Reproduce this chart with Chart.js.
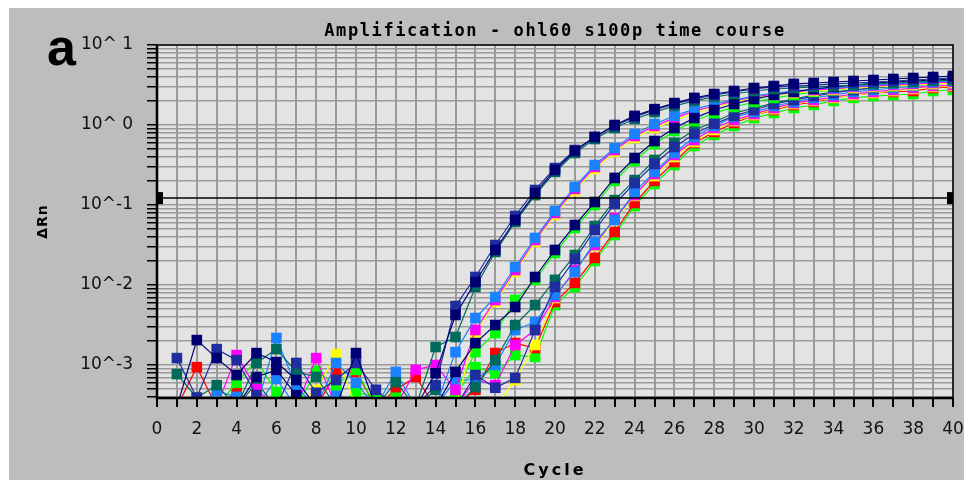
<!DOCTYPE html>
<html>
<head>
<meta charset="utf-8">
<title>Amplification - ohl60 s100p time course</title>
<script src="https://cdn.jsdelivr.net/npm/chart.js@4.4.1/dist/chart.umd.min.js"></script>
<style>
    html, body { margin: 0; padding: 0; background: #ffffff; }
    #wrap  { position: relative; width: 964px; height: 480px; overflow: hidden; }
    #panel { position: absolute; left: 9px; top: 8px; right: 0; bottom: 0; background: #bdbdbd; }
    #amplification_graph { position: absolute; left: 0; top: 0; }
</style>
</head>
<body>
<div id="wrap">
    <div id="panel"></div>
    <canvas id="amplification_graph" width="964" height="480"></canvas>
</div>
<script>
// cycle numbers and x tick positions
const cycles      = [1, 2, 3, 4, 5, 6, 7, 8, 9, 10, 11, 12, 13, 14, 15, 16, 17, 18, 19, 20,
                     21, 22, 23, 24, 25, 26, 27, 28, 29, 30, 31, 32, 33, 34, 35, 36, 37, 38, 39, 40];
const cycle_ticks = [0, 1, 2, 3, 4, 5, 6, 7, 8, 9, 10, 11, 12, 13, 14, 15, 16, 17, 18, 19, 20,
                     21, 22, 23, 24, 25, 26, 27, 28, 29, 30, 31, 32, 33, 34, 35, 36, 37, 38, 39, 40];

// log axis: decades that carry a label, and the visible range
const decades   = [0.0001, 0.001, 0.01, 0.1, 1];
const y_min     = 0.000387;
const y_max     = 10;
const threshold = 0.122;

// readings under the visible floor
const low = 0.0003;

// delta Rn per well, cycles 1..40
const navy1    = [low, 0.00205, 0.00122, 0.00075, 0.00141, 0.00109, 0.00065, low, low, 0.00141, low, low, low,
                  0.00079, 0.00422, 0.0109, 0.0274, 0.0649, 0.141, 0.274, 0.473, 0.708, 1.00, 1.30, 1.58, 1.88,
                  2.18, 2.44, 2.66, 2.90, 3.07, 3.26, 3.35, 3.45, 3.55, 3.65, 3.76, 3.87, 3.98, 4.10];
const blue1    = [0.00122, 0.00039, 0.00158, 0.00115, 0.00042, low, 0.00106, 0.00045, 0.00065, 0.00106, 0.00049, low, low,
                  0.00056, 0.00546, 0.0126, 0.0316, 0.0729, 0.154, 0.290, 0.487, 0.708, 0.972, 1.26, 1.54, 1.83,
                  2.11, 2.37, 2.59, 2.82, 2.99, 3.07, 3.16, 3.26, 3.35, 3.45, 3.55, 3.65, 3.76, 3.87];
const teal1    = [0.00077, 0.00039, 0.00056, low, 0.00106, 0.00158, 0.00082, 0.00071, low, low, low, 0.00061, low,
                  0.00168, 0.00224, 0.00944, 0.0259, 0.0613, 0.133, 0.259, 0.447, 0.668, 0.917, 1.19, 1.45, 1.73,
                  2.00, 2.24, 2.44, 2.66, 2.82, 2.90, 2.99, 3.07, 3.16, 3.26, 3.35, 3.45, 3.55, 3.65];
const sky1     = [low, low, 0.00047, 0.00040, low, 0.00218, 0.00053, low, 0.00106, 0.00060, low, 0.00082, low, low,
                  0.00145, 0.00387, 0.00708, 0.0168, 0.0387, 0.0841, 0.168, 0.316, 0.516, 0.772, 1.03, 1.30,
                  1.58, 1.83, 2.05, 2.30, 2.51, 2.66, 2.82, 2.90, 3.07, 3.16, 3.26, 3.35, 3.45, 3.55];
const magenta1 = [low, low, low, 0.00133, 0.00050, low, low, 0.00122, low, low, low, low, 0.00087,
                  0.00100, 0.00049, 0.00274, 0.00649, 0.0154, 0.0365, 0.0794, 0.159, 0.299, 0.487, 0.729, 0.972,
                  1.22, 1.50, 1.73, 2.00, 2.24, 2.44, 2.59, 2.74, 2.82, 2.99, 3.07, 3.16, 3.26, 3.35, 3.45];
const yellow1  = [low, low, low, low, low, low, low, 0.00049, 0.00137, low, low, low, low, low, low,
                  0.00251, 0.00613, 0.0145, 0.0345, 0.0750, 0.150, 0.282, 0.460, 0.688, 0.917, 1.15,
                  1.41, 1.68, 1.94, 2.18, 2.37, 2.51, 2.66, 2.74, 2.90, 2.99, 3.07, 3.16, 3.26, 3.35];
const navy2    = [low, low, low, low, 0.00071, 0.00087, 0.00042, low, low, low, low, low, low, low,
                  0.00082, 0.00188, 0.00316, 0.00531, 0.0126, 0.0274, 0.0562, 0.109, 0.218, 0.387, 0.631, 0.917,
                  1.22, 1.54, 1.83, 2.11, 2.37, 2.59, 2.82, 2.99, 3.16, 3.35, 3.45, 3.55, 3.65, 3.76];
const green1   = [low, low, low, 0.00060, 0.00115, 0.00046, low, 0.00084, 0.00056, 0.00087, low, 0.00039, low, low,
                  0.00046, 0.00145, 0.00251, 0.00649, 0.0116, 0.0251, 0.0516, 0.100, 0.200, 0.355, 0.579, 0.841,
                  1.12, 1.41, 1.68, 1.94, 2.18, 2.37, 2.59, 2.74, 2.90, 2.99, 3.07, 3.16, 3.26, 3.35];
const teal2    = [low, low, low, low, 0.00060, low, low, low, low, low, low, low, low, 0.00049, low,
                  0.00053, 0.00115, 0.00316, 0.00562, 0.0116, 0.0237, 0.0546, 0.115, 0.205, 0.365, 0.596,
                  0.866, 1.09, 1.41, 1.63, 1.88, 2.11, 2.37, 2.59, 2.74, 2.90, 3.07, 3.26, 3.35, 3.45];
const blue2    = [low, low, low, low, low, low, low, low, low, low, low, low, low, low, low,
                  0.00075, 0.00052, 0.00069, 0.00274, 0.00944, 0.0211, 0.0487, 0.103, 0.188, 0.326, 0.531,
                  0.772, 1.03, 1.30, 1.54, 1.83, 2.05, 2.30, 2.51, 2.74, 2.90, 3.07, 3.26, 3.45, 3.65];
const sky2     = [low, low, low, low, low, 0.00067, low, low, 0.00046, low, low, low, low, low,
                  0.00065, 0.00065, 0.00100, 0.00274, 0.00345, 0.00750, 0.0145, 0.0345, 0.0649, 0.145, 0.259, 0.447,
                  0.708, 0.972, 1.26, 1.45, 1.73, 1.94, 2.18, 2.37, 2.59, 2.74, 2.90, 3.07, 3.26, 3.35];
const green2   = [low, low, low, low, low, low, low, low, low, 0.00046, 0.00039, low, low, low,
                  0.00042, 0.00094, 0.00079, 0.00133, 0.00126, 0.00562, 0.00944, 0.0200, 0.0422, 0.0972, 0.183, 0.316,
                  0.546, 0.750, 0.972, 1.22, 1.41, 1.63, 1.78, 2.00, 2.18, 2.30, 2.37, 2.44, 2.66, 2.74];
const magenta2 = [low, low, low, low, low, low, low, low, low, low, low, low, low, low, low,
                  0.00065, 0.00056, 0.00178, 0.00274, 0.00708, 0.0154, 0.0316, 0.0688, 0.133, 0.244, 0.422,
                  0.649, 0.917, 1.15, 1.37, 1.63, 1.88, 2.05, 2.24, 2.44, 2.59, 2.74, 2.90, 3.07, 3.16];
const yellow2  = [low, low, low, low, low, low, low, low, low, low, low, low, low, low, low, low, low,
                  0.00065, 0.00178, 0.00688, 0.0150, 0.0307, 0.0649, 0.130, 0.230, 0.398, 0.613, 0.866,
                  1.12, 1.33, 1.58, 1.83, 2.00, 2.18, 2.37, 2.51, 2.66, 2.82, 2.99, 3.07];
const red2     = [low, 0.00094, low, 0.00047, low, low, low, low, 0.00079, 0.00082, low, 0.00049, 0.00071, low, low,
                  0.00049, 0.00141, 0.00188, 0.00163, 0.00613, 0.0106, 0.0218, 0.0460, 0.106, 0.200, 0.345,
                  0.596, 0.818, 1.06, 1.33, 1.54, 1.78, 1.94, 2.18, 2.37, 2.51, 2.59, 2.66, 2.90, 2.99];

const NAVY    = "#000073";
const BLUE    = "#1f2d9f";
const TEAL    = "#006b5b";
const SKY     = "#1a82ff";
const MAGENTA = "#ff00ff";
const YELLOW  = "#ffff00";
const GREEN   = "#00ff00";
const RED     = "#ff0000";

window.addEventListener("load", function (){
    draw_amplification_graph();
});

function make_series(values, color){
    let points = [];
    for (let i = 0; i < values.length; i++){
        points.push({ x: cycles[i], y: values[i] });
    }
    return {
        data: points,
        borderColor: color,
        backgroundColor: color,
        borderWidth: 1.2,
        pointStyle: "rect",
        pointRadius: 7.5,
        pointHoverRadius: 7.5,
        pointBorderWidth: 0,
        pointBackgroundColor: color,
        tension: 0,
        clip: 0
    };
}

// plot background, frame and the free text around the plot
const frame_plugin = {
    id: "frame",
    beforeDraw: function(chart){
        const ctx = chart.ctx;
        const a   = chart.chartArea;
        ctx.save();
        ctx.fillStyle = "#e3e3e3";
        ctx.fillRect(a.left, a.top, a.right - a.left, a.bottom - a.top);
        ctx.restore();
    },
    afterDraw: function(chart){
        const ctx = chart.ctx;
        const a   = chart.chartArea;
        const mid = (a.left + a.right) / 2;
        ctx.save();

        ctx.strokeStyle = "#000000";
        ctx.lineWidth   = 1.5;
        ctx.strokeRect(a.left, a.top, a.right - a.left, a.bottom - a.top);
        ctx.lineWidth   = 2.5;
        ctx.beginPath();
        ctx.moveTo(a.left, a.top);
        ctx.lineTo(a.left, a.bottom);
        ctx.lineTo(a.right, a.bottom);
        ctx.stroke();

        ctx.fillStyle    = "#000000";
        ctx.textBaseline = "alphabetic";

        ctx.textAlign     = "left";
        ctx.font          = "bold 52px 'Liberation Sans'";
        ctx.fillText("a", 47, 65);

        ctx.textAlign     = "center";
        ctx.letterSpacing = "1.6px";
        ctx.font          = "bold 17px 'DejaVu Sans Mono'";
        ctx.fillText("Amplification - ohl60 s100p time course", mid, 36);

        ctx.letterSpacing = "3px";
        ctx.font          = "bold 16px 'DejaVu Sans'";
        ctx.fillText("Cycle", mid, 475);

        ctx.letterSpacing = "1px";
        ctx.font          = "bold 14px 'DejaVu Sans'";
        ctx.textBaseline  = "middle";
        ctx.translate(43, (a.top + a.bottom) / 2);
        ctx.rotate(-Math.PI / 2);
        ctx.fillText("\u0394Rn", 0, 0);

        ctx.restore();
    }
};

function draw_amplification_graph(){

    // grid lines at 1..9 of every decade
    let grid_values = [];
    for (let d of decades){
        for (let k = 1; k <= 9; k++){
            let v = d * k;
            if (v >= y_min){
                grid_values.push(v);
            }
        }
    }
    grid_values.push(y_max);

    let datasets = [];
    datasets.push({
        data: [{ x: 0, y: threshold }, { x: 40, y: threshold }],
        borderColor: "#000000",
        backgroundColor: "#000000",
        borderWidth: 1.5,
        pointStyle: "rect",
        pointRadius: 8.5,
        pointHoverRadius: 8.5,
        pointBorderWidth: 0,
        pointBackgroundColor: "#000000",
        clip: 0
    });
    datasets.push(make_series(navy1, NAVY));
    datasets.push(make_series(blue1, BLUE));
    datasets.push(make_series(teal1, TEAL));
    datasets.push(make_series(navy2, NAVY));
    datasets.push(make_series(sky1, SKY));
    datasets.push(make_series(magenta1, MAGENTA));
    datasets.push(make_series(yellow1, YELLOW));
    datasets.push(make_series(green1, GREEN));
    datasets.push(make_series(blue2, BLUE));
    datasets.push(make_series(teal2, TEAL));
    datasets.push(make_series(sky2, SKY));
    datasets.push(make_series(magenta2, MAGENTA));
    datasets.push(make_series(yellow2, YELLOW));
    datasets.push(make_series(red2, RED));
    datasets.push(make_series(green2, GREEN));

    const ctx     = document.getElementById("amplification_graph").getContext("2d");
    const myChart = new Chart(ctx, {
        type: "line",
        data: { datasets: datasets },
        options: {
            responsive: false,
            animation: false,
            events: [],
            layout: { padding: { top: 45, right: 11, bottom: 0, left: 0 } },
            scales: {
                x: {
                    type: "linear",
                    min: 0,
                    max: 40,
                    afterFit: function(scale){
                        scale.height       = 82;
                        scale.paddingLeft  = 0;
                        scale.paddingRight = 0;
                    },
                    afterBuildTicks: function(scale){
                        scale.ticks = cycle_ticks.map(function(v){ return { value: v }; });
                    },
                    border: { display: false },
                    grid: {
                        color: "#9a9a9a",
                        lineWidth: 2,
                        drawTicks: true,
                        tickLength: 9,
                        tickColor: "#000000",
                        tickWidth: 2
                    },
                    ticks: {
                        autoSkip: false,
                        maxRotation: 0,
                        padding: 12,
                        color: "#111111",
                        font: { family: "DejaVu Sans", size: 17 },
                        callback: function(value){ return value % 2 === 0 ? String(value) : ""; }
                    }
                },
                y: {
                    type: "logarithmic",
                    min: y_min,
                    max: y_max,
                    afterFit: function(scale){
                        scale.width         = 157;
                        scale.paddingTop    = 0;
                        scale.paddingBottom = 0;
                    },
                    afterBuildTicks: function(scale){
                        scale.ticks = grid_values.map(function(v){ return { value: v }; });
                    },
                    border: { display: false },
                    grid: {
                        color: "#9a9a9a",
                        lineWidth: 1.5,
                        drawTicks: true,
                        tickLength: 10,
                        tickColor: "#000000",
                        tickWidth: 1.5
                    },
                    ticks: {
                        autoSkip: false,
                        padding: 14,
                        color: "#111111",
                        font: { family: "DejaVu Sans", size: 17 },
                        callback: function(value){
                            let e = Math.log10(value);
                            if (Math.abs(e - Math.round(e)) > 1e-6){
                                return "";
                            }
                            e = Math.round(e);
                            return e < 0 ? "10^" + e : "10^ " + e;
                        }
                    }
                }
            },
            plugins: {
                legend: { display: false },
                tooltip: { enabled: false }
            }
        },
        plugins: [ frame_plugin ]
    });
}
</script>
</body>
</html>
